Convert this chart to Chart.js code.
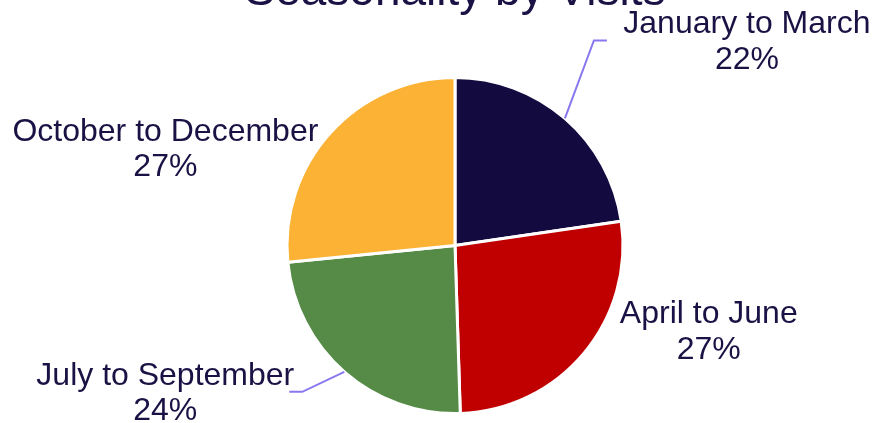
<!DOCTYPE html>
<html>
<head>
<meta charset="utf-8">
<script src="https://cdn.jsdelivr.net/npm/chart.js@4.4.1/dist/chart.umd.min.js"></script>
<style>
  html, body { margin: 0; padding: 0; background: #fff; }
  #wrap { width: 884px; height: 423px; position: relative; }
</style>
</head>
<body>
<div id="wrap"><canvas id="pie"></canvas></div>
<script>
// Data
const chartTitle = 'Seasonality by Visits';
const categories = ['January to March', 'April to June', 'July to September', 'October to December'];
// slice sizes
const visitShare = [22.7, 26.8, 23.9, 26.6];
// percentage text as printed on the chart
const percentLabels = ['22%', '27%', '24%', '27%'];

// Styles
const sliceColors = ['#130a40', '#c00000', '#558b46', '#fbb235'];
const textColor = '#1a1244';
const leaderColor = '#8878f0';

// label placement relative to the slice's outer edge point (dx, dy)
// leader: elbow + end points, or null when no line is drawn
const labelLayout = [
    { text: [182, -85], leader: [[29, -78], [42, -78]] },
    { text: [125, -30], leader: null },
    { text: [-179, 13], leader: [[-42, 20], [-55, 20]] },
    { text: [-165, 8], leader: null }
];

const outsideLabels = {
    id: 'outsideLabels',
    afterDatasetsDraw(chart) {
        const ctx = chart.ctx;
        const meta = chart.getDatasetMeta(0);
        ctx.save();

        // title (sits high, partly off canvas like the source)
        ctx.fillStyle = textColor;
        ctx.font = '46px "Liberation Sans", Arial, sans-serif';
        ctx.textAlign = 'center';
        ctx.textBaseline = 'alphabetic';
        ctx.fillText(chartTitle, 455, 5);

        meta.data.forEach((arc, i) => {
            const p = arc.getProps(['x', 'y', 'startAngle', 'endAngle', 'outerRadius'], true);
            const mid = (p.startAngle + p.endAngle) / 2;
            const ex = p.x + Math.cos(mid) * p.outerRadius;
            const ey = p.y + Math.sin(mid) * p.outerRadius;
            const lay = labelLayout[i];

            if (lay.leader) {
                ctx.strokeStyle = leaderColor;
                ctx.lineWidth = 2;
                ctx.beginPath();
                ctx.moveTo(ex, ey);
                lay.leader.forEach(pt => ctx.lineTo(ex + pt[0], ey + pt[1]));
                ctx.stroke();
            }

            const tx = ex + lay.text[0];
            const ty = ey + lay.text[1];
            ctx.fillStyle = textColor;
            ctx.font = '32px "Liberation Sans", Arial, sans-serif';
            ctx.textAlign = 'center';
            ctx.fillText(categories[i], tx, ty);
            ctx.fillText(percentLabels[i], tx, ty + 35.5);
        });
        ctx.restore();
    }
};

new Chart(document.getElementById('pie').getContext('2d'), {
    type: 'pie',
    data: {
        labels: categories,
        datasets: [{
            data: visitShare,
            backgroundColor: sliceColors,
            borderColor: '#ffffff',
            borderWidth: 3
        }]
    },
    options: {
        responsive: true,
        maintainAspectRatio: false,
        animation: false,
        layout: { padding: { top: 76, bottom: 8, left: 100, right: 74 } },
        plugins: {
            legend: { display: false },
            tooltip: { enabled: false },
            title: { display: false }
        }
    },
    plugins: [outsideLabels]
});
</script>
</body>
</html>
